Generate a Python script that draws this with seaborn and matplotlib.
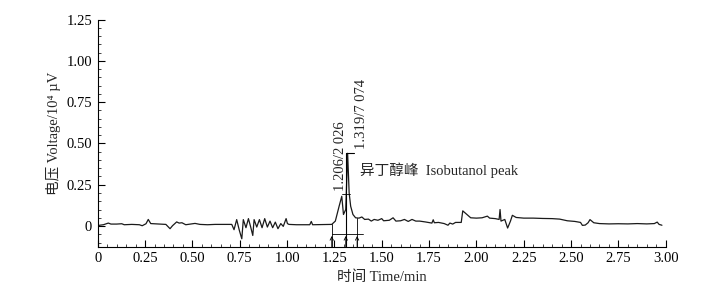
import numpy as np
import pandas as pd
import matplotlib
matplotlib.use("Agg")
import matplotlib.pyplot as plt
import seaborn as sns
from matplotlib.ticker import MultipleLocator, FuncFormatter

# chromatogram trace (time in min, voltage in 10^4 uV)
time = [0.000, 0.010, 0.030, 0.056, 0.070, 0.100, 0.127, 0.140, 0.180, 0.220,
        0.235, 0.255, 0.267, 0.280, 0.330, 0.360, 0.382, 0.395, 0.417, 0.430,
        0.445, 0.465, 0.490, 0.514, 0.540, 0.580, 0.620, 0.660, 0.708,
        0.720, 0.734, 0.748, 0.761, 0.769, 0.783, 0.796, 0.808, 0.819, 0.826,
        0.840, 0.854, 0.868, 0.882, 0.896, 0.910, 0.924, 0.938, 0.952, 0.967,
        0.980, 0.995, 1.002, 1.010, 1.050, 1.100, 1.120, 1.128, 1.135, 1.236,
        1.255, 1.275, 1.289, 1.298, 1.310, 1.320, 1.328, 1.336, 1.348, 1.362,
        1.380, 1.395, 1.410, 1.430, 1.445, 1.460, 1.480, 1.500, 1.510, 1.540,
        1.560, 1.575, 1.600, 1.620, 1.640, 1.660, 1.680, 1.700, 1.730, 1.765,
        1.772, 1.778, 1.800, 1.830, 1.850, 1.860, 1.875, 1.890, 1.920, 1.928,
        1.950, 1.970, 2.000, 2.030, 2.058, 2.070, 2.100, 2.120, 2.125, 2.130,
        2.150, 2.165, 2.180, 2.190, 2.210, 2.250, 2.300, 2.350, 2.400, 2.440,
        2.480, 2.520, 2.550, 2.560, 2.575, 2.590, 2.600, 2.620, 2.650, 2.700,
        2.750, 2.800, 2.850, 2.900, 2.940, 2.955, 2.965, 2.980]
voltage = [-0.002, 0.005, 0.008, 0.018, 0.012, 0.012, 0.014, 0.008, 0.010, 0.008,
           0.002, 0.014, 0.040, 0.015, 0.012, 0.010, -0.016, 0.002, 0.025, 0.018,
           0.020, 0.008, 0.012, 0.016, 0.010, 0.008, 0.010, 0.010, 0.010,
           -0.022, 0.039, -0.026, -0.077, 0.039, -0.010, 0.045, -0.006, -0.057, 0.039,
           -0.006, 0.039, -0.010, 0.045, -0.006, 0.030, -0.010, 0.024, -0.016, 0.015,
           -0.002, 0.045, 0.015, 0.010, 0.008, 0.008, 0.008, 0.028, 0.008, 0.010,
           0.030, 0.120, 0.180, 0.070, 0.100, 0.440, 0.200, 0.120, 0.070, 0.050,
           0.048, 0.055, 0.040, 0.042, 0.030, 0.040, 0.035, 0.045, 0.032, 0.035,
           0.050, 0.030, 0.032, 0.040, 0.028, 0.040, 0.030, 0.030, 0.025, 0.018,
           0.038, 0.020, 0.022, 0.015, 0.005, 0.018, 0.012, 0.022, 0.022, 0.092,
           0.070, 0.050, 0.048, 0.050, 0.060, 0.048, 0.045, 0.040, 0.100, 0.030,
           0.040, -0.012, 0.030, 0.065, 0.052, 0.048, 0.048, 0.046, 0.045, 0.042,
           0.032, 0.028, 0.022, 0.004, 0.006, 0.020, 0.039, 0.020, 0.015, 0.013,
           0.014, 0.013, 0.015, 0.013, 0.015, 0.024, 0.010, 0.005]

peak_labels = ["1.206/2 026", "1.319/7 074"]
peak_name = "异丁醇峰  Isobutanol peak"

df = pd.DataFrame({"time": time, "voltage": voltage})

sns.set_style("ticks")
plt.rcParams["font.family"] = ["Liberation Serif", "Noto Sans CJK SC", "DejaVu Sans"]

fig = plt.figure(figsize=(7.19, 2.92), dpi=100)
ax = fig.add_axes([0.1359, 0.1551, 0.79, 0.7781])

sns.lineplot(data=df, x="time", y="voltage", ax=ax, color="#1a1a1a", lw=0.9,
             estimator=None, sort=False)

# peak markers
lc = "black"
ax.plot([1.236, 1.40], [-0.05, -0.05], color=lc, lw=0.6)
ax.plot([1.236, 1.236], [-0.125, 0.010], color=lc, lw=0.6)
ax.plot([1.31, 1.31], [-0.125, 0.44], color=lc, lw=0.8)
ax.plot([1.37, 1.37], [-0.125, 0.048], color=lc, lw=0.6)
ax.plot([1.31, 1.355], [0.44, 0.44], color=lc, lw=0.8)
ax.plot([1.29, 1.33], [0.195, 0.195], color=lc, lw=0.6)
for t in [1.236, 1.31, 1.37]:
    ax.annotate("", xy=(t, -0.06), xytext=(t, -0.125),
                arrowprops=dict(arrowstyle="->", lw=0.6, color=lc,
                                mutation_scale=6, shrinkA=0, shrinkB=0))

ax.text(1.282, 0.215, peak_labels[0], rotation=90, ha="center", va="bottom",
        fontsize=10.5)
ax.text(1.392, 0.465, peak_labels[1], rotation=90, ha="center", va="bottom",
        fontsize=10.5)
ax.text(1.386, 0.339, peak_name, ha="left", va="center", fontsize=10.5)

ax.set_xlim(0, 3.0)
ax.set_ylim(-0.125, 1.25)
ax.xaxis.set_major_locator(MultipleLocator(0.25))
ax.xaxis.set_minor_locator(MultipleLocator(0.05))
ax.yaxis.set_major_locator(MultipleLocator(0.25))
ax.yaxis.set_minor_locator(MultipleLocator(0.05))
fmt = FuncFormatter(lambda v, p: "0" if abs(v) < 1e-9 else f"{v:.2f}")
ax.xaxis.set_major_formatter(fmt)
ax.yaxis.set_major_formatter(fmt)
ax.tick_params(which="major", direction="in", length=5, width=0.8,
               labelsize=10.5, colors="black", pad=4)
ax.tick_params(which="minor", direction="in", length=2.5, width=0.6)

sns.despine(ax=ax)
for s in ["left", "bottom"]:
    ax.spines[s].set_linewidth(0.8)
    ax.spines[s].set_color("black")

ax.set_xlabel("时间 Time/min", fontsize=10.5)
ax.set_ylabel("电压 Voltage/10⁴ µV", fontsize=10.5)
ax.xaxis.set_label_coords(0.5, -0.105)
ax.yaxis.set_label_coords(-0.065, 0.5)

fig.savefig("out.png", dpi=100)
